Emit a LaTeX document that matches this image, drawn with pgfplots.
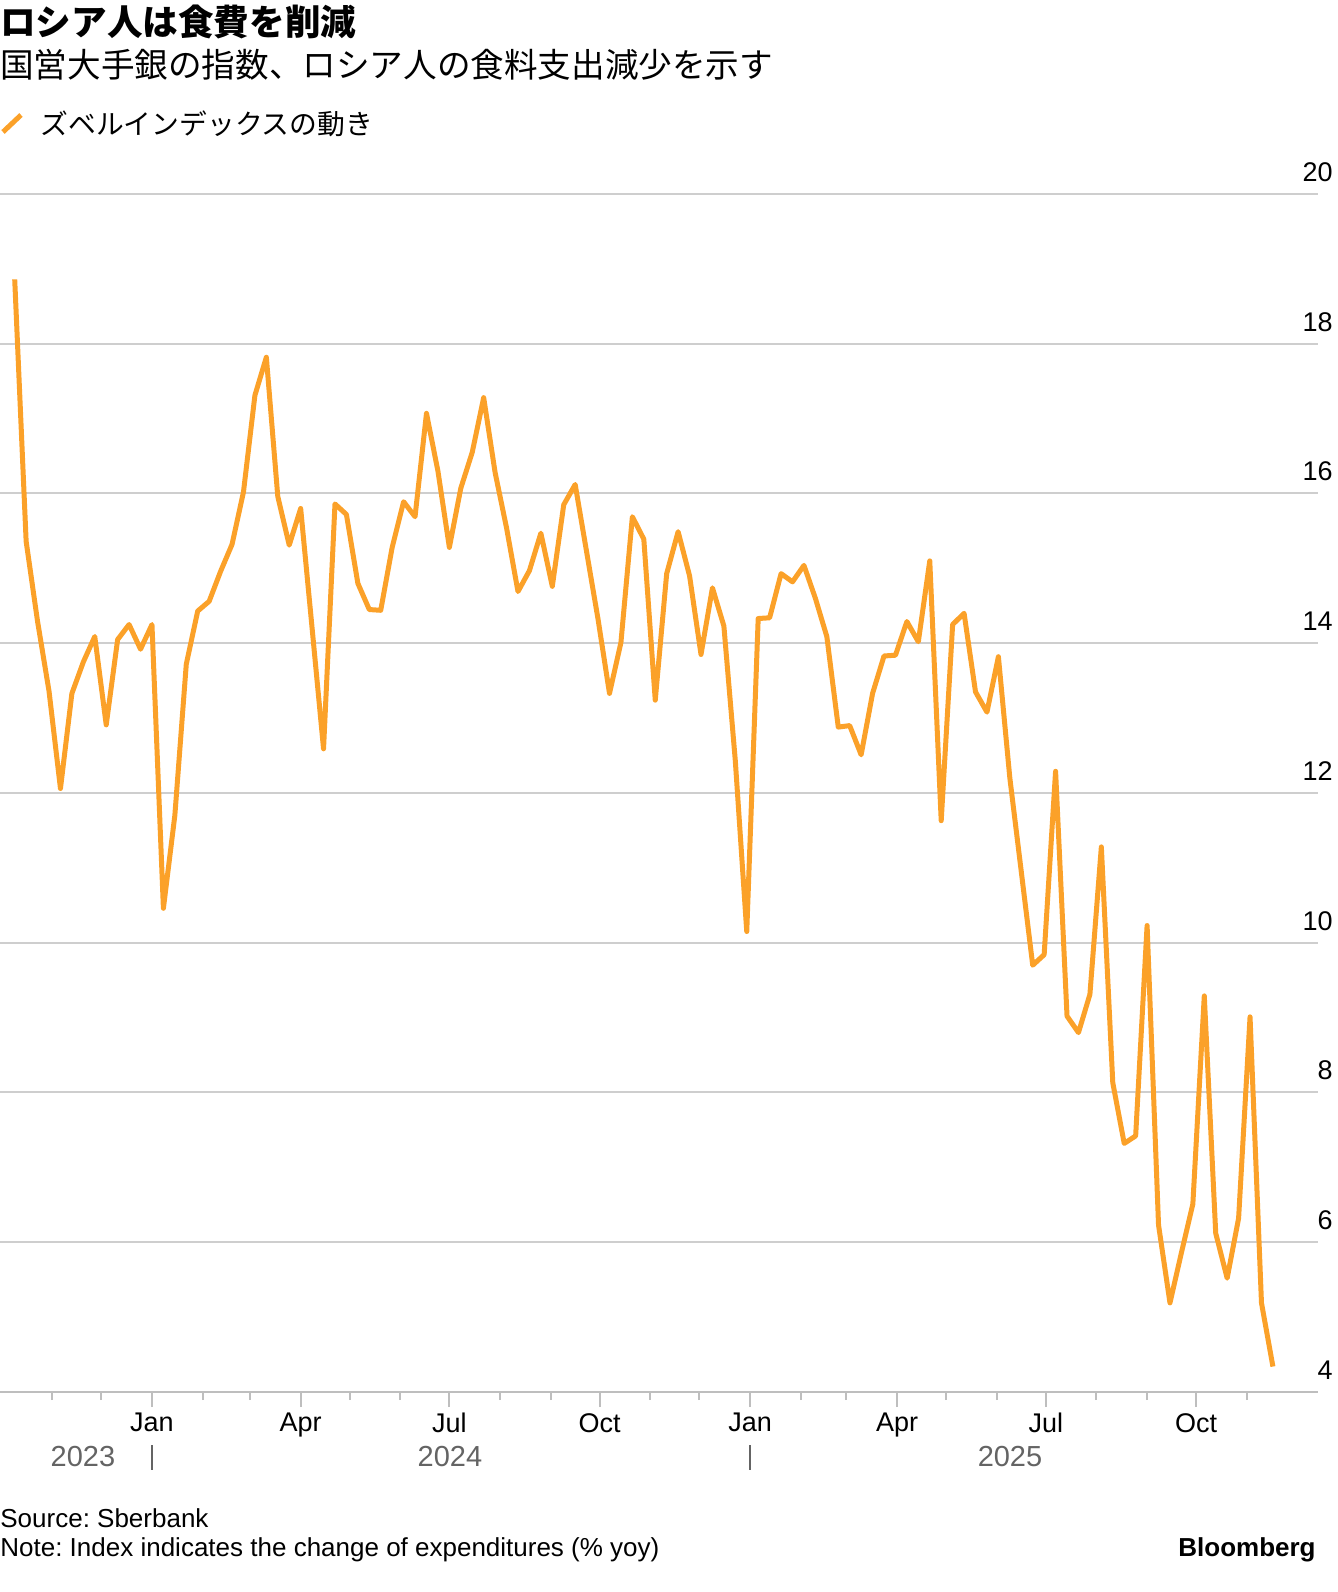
\documentclass[border=0pt]{standalone}
\usepackage{fontspec}
\setmainfont{Liberation Sans}
\newfontfamily\jp{Noto Sans CJK JP}
\usepackage{pgfplots}
\pgfplotsset{compat=1.18}
\definecolor{sber}{RGB}{251,161,41}
\definecolor{gridc}{RGB}{206,206,206}
\definecolor{axisc}{RGB}{190,190,190}
\definecolor{yearc}{RGB}{100,100,100}
\frenchspacing

\begin{document}
\begin{tikzpicture}[x=1pt,y=1pt]

% titles
\node[anchor=base west, inner sep=0pt, font=\jp\bfseries\fontsize{17.8}{20}\selectfont] at (0pt,778.3pt) {ロシア人は食費を削減};
\node[anchor=base west, inner sep=0pt, font=\jp\fontsize{16.8}{19}\selectfont] at (0pt,757pt) {国営大手銀の指数、ロシア人の食料支出減少を示す};

% legend
\draw[sber, line width=2.5pt] (1.5pt,730pt) -- (10.5pt,738.5pt);
\node[anchor=base west, inner sep=0pt, font=\jp\fontsize{13.9}{16}\selectfont] at (20pt,728.5pt) {ズベルインデックスの動き};

\begin{axis}[
    at={(0pt,100pt)}, anchor=south west,
    width=659pt, height=599pt, scale only axis,
    xmin=-93, xmax=713.6, ymin=4, ymax=20,
    separate axis lines,
    axis x line*=bottom,
    axis y line*=right,
    y axis line style={draw=none},
    x axis line style={draw=axisc, line width=1pt},
    ytick={4,6,...,20},
    ymajorgrids,
    grid style={gridc, line width=1pt},
    ytick style={draw=none},
    yticklabel style={anchor=south east, inner sep=0pt, yshift=6pt,
        font=\fontsize{13.5}{15}\selectfont},
    /pgf/number format/assume math mode=true,
    xtick={0,91,182,274,366,456,547,639},
    xticklabels={Jan,Apr,Jul,Oct,Jan,Apr,Jul,Oct},
    minor xtick={-61,-31,31,60,121,152,213,244,305,335,397,425,486,517,578,609,670},
    tick align=outside,
    major tick length=7.5pt,
    minor tick length=4pt,
    xtick style={draw=axisc, line width=1pt},
    xticklabel style={anchor=north, inner sep=0pt, yshift=-3pt,
        font=\fontsize{13.5}{15}\selectfont},
]
\addplot[sber, line width=2.5pt, line join=round, mark=none] coordinates {
(-84,18.86) (-77,15.36) (-70,14.29) (-63,13.36) (-56,12.06) (-49,13.33)
(-42,13.75) (-35,14.09) (-28,12.91) (-21,14.05) (-14,14.25) (-7,13.92)
(0,14.25) (7,10.46) (14,11.70) (21,13.72) (28,14.43) (35,14.56)
(42,14.96) (49,15.32) (56,16.02) (63,17.31) (70,17.82) (77,15.96)
(84,15.31) (91,15.80) (98,14.20) (105,12.59) (112,15.86) (119,15.72)
(126,14.80) (133,14.45) (140,14.44) (147,15.28) (154,15.89) (161,15.69)
(168,17.07) (175,16.30) (182,15.28) (189,16.07) (196,16.55) (203,17.28)
(210,16.28) (217,15.54) (224,14.69) (231,14.97) (238,15.47) (245,14.76)
(252,15.85) (259,16.12) (266,15.22) (273,14.32) (280,13.33) (287,14.01)
(294,15.69) (301,15.39) (308,13.24) (315,14.93) (322,15.49) (329,14.90)
(336,13.85) (343,14.74) (350,14.23) (357,12.43) (364,10.15) (371,14.33)
(378,14.34) (385,14.93) (392,14.82) (399,15.04) (406,14.60) (413,14.09)
(420,12.88) (427,12.90) (434,12.51) (441,13.33) (448,13.83) (455,13.84)
(462,14.29) (469,14.02) (476,15.10) (483,11.63) (490,14.25) (497,14.40)
(504,13.35) (511,13.08) (518,13.82) (525,12.20) (532,10.95) (539,9.70)
(546,9.84) (553,12.29) (560,9.02) (567,8.80) (574,9.31) (581,11.28)
(588,8.13) (595,7.32) (602,7.42) (609,10.23) (616,6.23) (623,5.19)
(630,5.86) (637,6.51) (644,9.29) (651,6.12) (658,5.52) (665,6.32)
(672,9.01) (679,5.19) (686,4.34)
};
\end{axis}

% year labels
\node[anchor=base, inner sep=0pt, text=yearc, font=\fontsize{14.5}{16}\selectfont] at (41.5pt,62.5pt) {2023};
\node[anchor=base, inner sep=0pt, text=yearc, font=\fontsize{14.5}{16}\selectfont] at (225pt,62.5pt) {2024};
\node[anchor=base, inner sep=0pt, text=yearc, font=\fontsize{14.5}{16}\selectfont] at (505pt,62.5pt) {2025};
\draw[yearc, line width=0.8pt] (76pt,61pt) -- (76pt,73.5pt);
\draw[yearc, line width=0.8pt] (375pt,61pt) -- (375pt,73.5pt);

% footer
\node[anchor=base west, inner sep=0pt, font=\fontsize{13}{15}\selectfont] at (0pt,32pt) {Source: Sberbank};
\node[anchor=base west, inner sep=0pt, font=\fontsize{13}{15}\selectfont] at (0pt,17.5pt) {Note: Index indicates the change of expenditures (\% yoy)};
\node[anchor=base east, inner sep=0pt, font=\bfseries\fontsize{13}{15}\selectfont] at (658pt,17.5pt) {Bloomberg};

\pgfresetboundingbox
\path[use as bounding box] (0pt,0pt) rectangle (669pt,796pt);
\end{tikzpicture}
\end{document}
